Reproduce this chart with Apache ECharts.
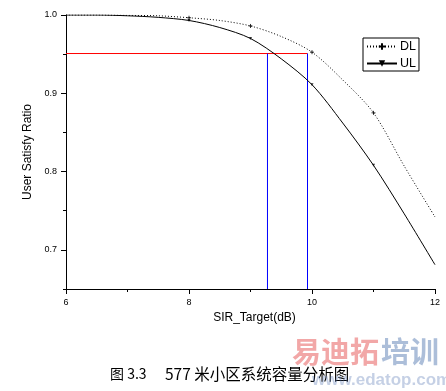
<!DOCTYPE html>
<html>
<head>
<meta charset="utf-8">
<script src="https://cdn.jsdelivr.net/npm/echarts@6/dist/echarts.min.js"></script>
<style>
html,body{margin:0;padding:0;background:#fff;}
#chart{width:446px;height:391px;}
</style>
</head>
<body>
<div id="chart"></div>
<script>
// Data
const xValues = [6, 6.5, 7, 7.5, 8, 8.5, 9, 9.5, 10, 10.5, 11, 11.5, 12];
const dlValues = [1.0, 1.0, 0.9995, 0.999, 0.9965, 0.993, 0.986, 0.9725, 0.9525, 0.917, 0.875, 0.807, 0.742];
const ulValues = [1.0, 1.0, 0.999, 0.997, 0.993, 0.984, 0.970, 0.944, 0.911, 0.862, 0.808, 0.746, 0.681];
const markerX = [8, 9, 10, 11];
const seriesNames = ['DL', 'UL'];
const targetRatio = 0.9508;
const targetX = [9.276, 9.927];
const xTicks = [6, 8, 10, 12];
const yTicks = [0.7, 0.8, 0.9, 1.0];
const xRange = [6, 12];
const yRange = [0.65, 1.0];
const caption = ['图 3.3', '577 米小区系统容量分析图'];
const watermark = ['易迪拓', '培训', 'www.edatop.com'];

const chart = echarts.init(document.getElementById('chart'), null, {renderer: 'canvas'});

const plusPath = 'path://M0,5L10,5M5,0L5,10';
const triPath = 'path://M0,0L10,0L5,8Z';

function pairs(xs, ys) { return xs.map((x, i) => [x, ys[i]]); }
function markers(ys) { return markerX.map(x => [x, ys[xValues.indexOf(x)]]); }

const option = {
  animation: false,
  backgroundColor: '#ffffff',
  textStyle: {fontFamily: 'Liberation Sans, Arial, sans-serif'},
  grid: {left: 66, right: 11, top: 15, bottom: 102, containLabel: false},
  legend: {
    left: 363, top: 38,
    orient: 'vertical',
    data: seriesNames,
    borderColor: '#000', borderWidth: 1, borderRadius: 0,
    padding: [2, 3, 1, 3],
    itemGap: 4,
    itemWidth: 30, itemHeight: 8,
    textStyle: {fontSize: 12.5, color: '#000', fontFamily: 'Liberation Sans, Arial, sans-serif', padding: [0, 0, 0, -2]}
  },
  xAxis: {
    type: 'value', min: xRange[0], max: xRange[1], interval: 2,
    name: 'SIR_Target(dB)', nameLocation: 'middle', nameGap: 17,
    nameTextStyle: {fontSize: 12, color: '#000', padding: [0, 0, 0, 8]},
    axisLine: {show: true, onZero: false, lineStyle: {color: '#000', width: 1}},
    axisTick: {show: true, inside: false, length: 5, lineStyle: {color: '#000'}},
    minorTick: {show: true, splitNumber: 2, length: 3, lineStyle: {color: '#000'}},
    axisLabel: {fontSize: 9, color: '#000', margin: 9,
      formatter: v => xTicks.includes(v) ? String(v) : ''},
    splitLine: {show: false}
  },
  yAxis: [{
    type: 'value', min: yRange[0], max: yRange[1], interval: 0.05,
    name: 'User Satisfy Ratio', nameLocation: 'middle', nameGap: 32, nameRotate: 90,
    nameTextStyle: {fontSize: 12, color: '#000'},
    axisLine: {show: true, onZero: false, lineStyle: {color: '#000', width: 1}},
    axisTick: {show: true, inside: false, length: 3, lineStyle: {color: '#000'}},
    axisLabel: {fontSize: 9, color: '#000', margin: 9,
      formatter: v => { const r = Math.round(v * 100) / 100; return yTicks.some(t => Math.abs(t - r) < 1e-6) ? r.toFixed(1) : ''; }},
    splitLine: {show: false}
  }, {
    type: 'value', min: yRange[0], max: yRange[1], position: 'left', offset: 0,
    axisLine: {show: false},
    axisTick: {show: true, inside: false, length: 5, customValues: yTicks, lineStyle: {color: '#000'}},
    axisLabel: {show: false},
    splitLine: {show: false}
  }],
  series: [
    {
      name: seriesNames[0], type: 'line', data: pairs(xValues, dlValues),
      smooth: 0.3, symbol: plusPath, symbolSize: 5, showSymbol: false,
      lineStyle: {color: '#000', width: 1, type: [1, 2]},
      itemStyle: {color: 'transparent', borderColor: '#000', borderWidth: 1},
      z: 3
    },
    {
      name: seriesNames[1], type: 'line', data: pairs(xValues, ulValues),
      smooth: 0.3, symbol: triPath, symbolSize: 4, showSymbol: false,
      lineStyle: {color: '#000', width: 1},
      itemStyle: {color: '#000'},
      z: 3
    },
    {
      type: 'scatter', data: markers(dlValues), symbol: plusPath, symbolSize: 4,
      itemStyle: {color: 'transparent', borderColor: '#000', borderWidth: 1}, z: 4, silent: true
    },
    {
      type: 'scatter', data: markers(ulValues), symbol: triPath, symbolSize: 3,
      itemStyle: {color: '#000'}, z: 4, silent: true
    },
    {
      type: 'line', data: [[xRange[0], targetRatio], [targetX[1], targetRatio]],
      symbol: 'none', lineStyle: {color: '#ff0000', width: 1}, z: 2, silent: true
    },
    {
      type: 'line', data: [[targetX[0], targetRatio], [targetX[0], yRange[0]]],
      symbol: 'none', lineStyle: {color: '#0000ff', width: 1}, z: 2, silent: true
    },
    {
      type: 'line', data: [[targetX[1], targetRatio], [targetX[1], yRange[0]]],
      symbol: 'none', lineStyle: {color: '#0000ff', width: 1}, z: 2, silent: true
    }
  ],
  graphic: [
    {type: 'text', left: 110, top: 367, style: {text: caption[0], fontSize: 14, fill: '#000', fontFamily: 'Noto Sans CJK SC, sans-serif'}},
    {type: 'text', left: 165, top: 366, style: {text: caption[1], fontSize: 15.5, fill: '#000', fontFamily: 'Noto Sans CJK SC, sans-serif'}},
    {type: 'text', left: 292, top: 337, z: 10, style: {text: watermark[0], fontSize: 29, fontWeight: 'bold', fill: 'rgba(230,80,80,0.5)', fontFamily: 'Noto Sans CJK SC, sans-serif'}},
    {type: 'text', left: 381, top: 337, z: 10, style: {text: watermark[1], fontSize: 29, fontWeight: 'bold', fill: 'rgba(70,110,170,0.45)', fontFamily: 'Noto Sans CJK SC, sans-serif'}},
    {type: 'text', left: 312, top: 372, z: 10, style: {text: watermark[2], fontSize: 17, fontWeight: 'bold', fill: 'rgba(90,120,180,0.35)', fontFamily: 'Liberation Sans, Arial, sans-serif'}}
  ]
};
chart.setOption(option);
</script>
</body>
</html>
